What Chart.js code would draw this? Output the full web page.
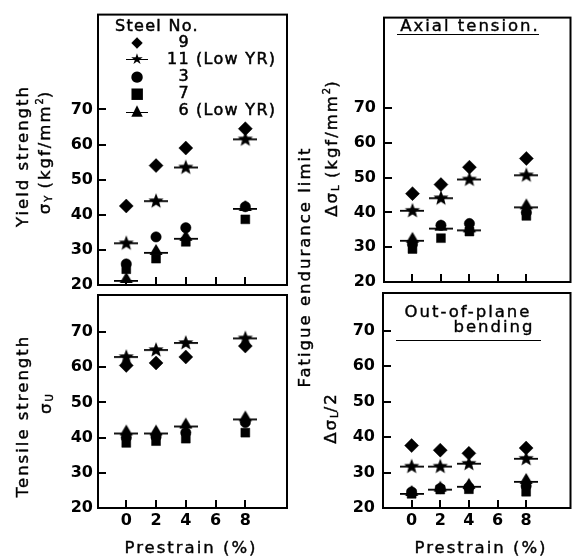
<!DOCTYPE html>
<html>
<head>
<meta charset="utf-8">
<script src="https://cdn.jsdelivr.net/npm/chart.js@4.4.1/dist/chart.umd.min.js"></script>
<style>
  body { margin: 0; background: #fff; }
  #wrap { position: relative; width: 578px; height: 559px; overflow: hidden; font-family: 'DejaVu Sans', sans-serif; color: #000; }
  #wrap canvas { position: absolute; left: 0; top: 0; }
  .t { position: absolute; white-space: nowrap; transform: translate(-50%, -50%); font-size: 16.5px; letter-spacing: 2px; line-height: 1; -webkit-text-stroke: 0.4px #000; }
  .rot { transform: translate(-50%, -50%) rotate(-90deg); }
  .t sub { font-size: 10px; vertical-align: -2px; letter-spacing: 0; }
  .t sup { font-size: 10px; vertical-align: 7px; letter-spacing: 0; }
  .leg { position: absolute; white-space: nowrap; font-size: 16px; line-height: 1; transform: translateY(-50%); letter-spacing: 1.3px; -webkit-text-stroke: 0.5px #000; }
  .mk { position: absolute; transform: translate(-50%, -50%); font-size: 15px; line-height: 1; }
  .dash { position: absolute; height: 0; border-top: 1.5px solid #000; width: 22px; transform: translateX(-50%); }
  .uline { position: absolute; height: 0; border-top: 1.5px solid #000; }
</style>
</head>
<body>
<div id="wrap">
  <canvas id="c1" width="578" height="559"></canvas>
  <canvas id="c2" width="578" height="559"></canvas>
  <canvas id="c3" width="578" height="559"></canvas>
  <canvas id="c4" width="578" height="559"></canvas>

  <!-- axis titles -->
  <div class="t rot" style="left:23px; top:156px;">Yield strength</div>
  <div class="t rot" style="left:44px; top:152px;">σ<sub>Y</sub> (kgf/mm<sup>2</sup>)</div>
  <div class="t rot" style="left:23px; top:416px;">Tensile strength</div>
  <div class="t rot" style="left:46px; top:404px;">σ<sub>U</sub></div>
  <div class="t rot" style="left:305px; top:267px;">Fatigue endurance limit</div>
  <div class="t rot" style="left:331px; top:148px;">Δσ<sub>L</sub> (kgf/mm<sup>2</sup>)</div>
  <div class="t rot" style="left:331px; top:418px;">Δσ<sub>L</sub>/2</div>
  <div class="t" style="left:191px; top:548px;">Prestrain (%)</div>
  <div class="t" style="left:481px; top:548px;">Prestrain (%)</div>

  <!-- panel titles -->
  <div class="t" style="left:470px; top:26px;">Axial tension.</div>
  <div class="uline" style="left:397px; top:34px; width:142px;"></div>
  <div class="t" style="left:468px; top:312px;">Out-of-plane</div>
  <div class="t" style="left:494px; top:327px;">bending</div>
  <div class="uline" style="left:396px; top:340px; width:145px;"></div>

  <!-- legend -->
  <div class="leg" style="left:115px; top:26px;">Steel No.</div>
  <div id="legend"></div>
</div>

<script>
// prestrain (%)
const prestrain = [0, 2, 4, 8];
const xTicks = [0, 2, 4, 6, 8];
const yTicks = [20, 30, 40, 50, 60, 70];

const steelNames = ['9', '11', '3', '7', '6'];
const steelNotes = ['', '(Low YR)', '', '', '(Low YR)'];

// yield strength (kgf/mm2)
const yield9 = [42.5, 54, 59, 64.5];
const yield11 = [32, 44, 53.6, 61.6];
const yield3 = [26, 33.7, 36.3, 42.3];
const yield7 = [24.5, 27.5, 32.3, 38.7];
const yield6 = [22, 30, 34, 42.5];

// tensile strength
const tens9 = [60.5, 61.2, 62.9, 66];
const tens11 = [63, 65, 67, 68.3];
const tens3 = [40, 40.2, 41.4, 44.3];
const tens7 = [38.5, 39, 39.7, 41.4];
const tens6 = [42, 42, 44, 46];

// fatigue endurance limit, axial tension
const axial9 = [45.4, 48, 53, 55.5];
const axial11 = [40.6, 44.2, 49.6, 50.8];
const axial3 = [30.9, 36.3, 36.8, 40];
const axial7 = [29.5, 32.6, 34.5, 39];
const axial6 = [32.7, 36.2, 35.7, 42.3];

// fatigue endurance limit, out-of-plane bending
const bend9 = [37.6, 36.3, 35.4, 36.9];
const bend11 = [31.8, 31.8, 32.6, 34];
const bend3 = [24.5, 25.5, 25.8, 26.2];
const bend7 = [24, 25.2, 25.3, 24.6];
const bend6 = [24.8, 26, 26.8, 28.2];

const W = 578, H = 559;

// marker images for the low YR steels (shape with a horizontal bar)
function makeStar() {
  const c = document.createElement('canvas');
  c.width = 24; c.height = 17;
  const g = c.getContext('2d');
  g.fillStyle = '#000';
  g.beginPath();
  for (let i = 0; i < 10; i++) {
    const r = i % 2 === 0 ? 8 : 3.4;
    const a = -Math.PI / 2 + i * Math.PI / 5;
    const px = 12 + r * Math.cos(a), py = 9 + r * Math.sin(a);
    if (i === 0) g.moveTo(px, py); else g.lineTo(px, py);
  }
  g.closePath();
  g.fill();
  g.fillRect(0, 8, 24, 1.8);
  return c;
}
function makeTri() {
  const c = document.createElement('canvas');
  c.width = 24; c.height = 14;
  const g = c.getContext('2d');
  g.fillStyle = '#000';
  g.beginPath();
  g.moveTo(12, 1); g.lineTo(18.5, 12); g.lineTo(5.5, 12);
  g.closePath();
  g.fill();
  g.fillRect(0, 9, 24, 1.8);
  return c;
}
const starImg = makeStar();
const triImg = makeTri();

const markerStyles = [
  { pointStyle: 'rectRot', pointRadius: 7 },
  { pointStyle: starImg },
  { pointStyle: 'circle', pointRadius: 5.2 },
  { pointStyle: 'rect', pointRadius: 6.3 },
  { pointStyle: triImg },
];

const tickFont = { family: 'DejaVu Sans', size: 16, weight: 'bold' };

// frame and inward tick marks
const framePlugin = {
  id: 'frame',
  afterDraw(chart) {
    const { ctx, chartArea: a, scales: { x, y } } = chart;
    ctx.save();
    ctx.strokeStyle = '#000';
    ctx.lineWidth = 2;
    ctx.strokeRect(a.left, a.top, a.right - a.left, a.bottom - a.top);
    ctx.beginPath();
    y.ticks.forEach((t) => {
      const py = Math.round(y.getPixelForValue(t.value));
      ctx.moveTo(a.left, py);
      ctx.lineTo(a.left + 8, py);
    });
    x.ticks.forEach((t) => {
      const px = Math.round(x.getPixelForValue(t.value));
      ctx.moveTo(px, a.bottom);
      ctx.lineTo(px, a.bottom - 8);
    });
    ctx.stroke();
    ctx.restore();
  },
};

function makeChart(id, box, series) {
  const xh = box.showX ? 30 : 0;
  new Chart(document.getElementById(id), {
    type: 'scatter',
    data: {
      datasets: series.map((vals, i) => ({
        label: steelNames[i],
        data: prestrain.map((p, j) => ({ x: p, y: vals[j] })),
        backgroundColor: '#000',
        borderColor: '#000',
        pointBorderWidth: 0.5,
        ...markerStyles[i],
      })),
    },
    options: {
      responsive: false,
      animation: false,
      layout: {
        padding: { left: 0, top: box.top, right: W - box.right, bottom: H - box.bottom - xh },
      },
      plugins: { legend: { display: false }, tooltip: { enabled: false } },
      scales: {
        x: {
          type: 'linear',
          min: box.xMin,
          max: box.xMax,
          afterBuildTicks: (s) => { s.ticks = xTicks.map((v) => ({ value: v })); },
          afterFit: (s) => { s.height = xh; },
          grid: { display: false, drawTicks: false },
          border: { display: false },
          ticks: { display: box.showX, font: tickFont, color: '#000', padding: 3 },
        },
        y: {
          min: 20,
          max: box.yMax,
          afterBuildTicks: (s) => { s.ticks = yTicks.map((v) => ({ value: v })); },
          afterFit: (s) => { s.width = box.left; },
          grid: { display: false, drawTicks: false },
          border: { display: false },
          ticks: { font: tickFont, color: '#000', padding: box.pad },
        },
      },
    },
    plugins: [framePlugin],
  });
}

makeChart('c1', { left: 98, right: 287, top: 12, bottom: 285, xMin: -1.9, xMax: 10.8, yMax: 97, showX: false, pad: 5 },
  [yield9, yield11, yield3, yield7, yield6]);
makeChart('c2', { left: 98, right: 287, top: 295, bottom: 508, xMin: -1.9, xMax: 10.8, yMax: 80.5, showX: true, pad: 5 },
  [tens9, tens11, tens3, tens7, tens6]);
makeChart('c3', { left: 384, right: 577, top: 12, bottom: 282, xMin: -2, xMax: 11.1, yMax: 96, showX: false, pad: 8 },
  [axial9, axial11, axial3, axial7, axial6]);
makeChart('c4', { left: 383, right: 577, top: 293, bottom: 508, xMin: -2, xMax: 11.1, yMax: 80.6, showX: true, pad: 8 },
  [bend9, bend11, bend3, bend7, bend6]);

// legend rows
const legendGlyphs = ['◆', '★', '●', '■', '▲'];
const legendDash = [false, true, false, false, true];
const legend = document.getElementById('legend');
steelNames.forEach((name, i) => {
  const y = 42 + i * 17;
  let html = `<div class="mk" style="left:137px; top:${y}px;">${legendGlyphs[i]}</div>`;
  if (legendDash[i]) html += `<div class="dash" style="left:137px; top:${y + (i === 4 ? 2 : 0)}px;"></div>`;
  html += `<div class="leg" style="right:${W - 190}px; top:${y}px;">${name}</div>`;
  if (steelNotes[i]) html += `<div class="leg" style="left:196px; top:${y}px;">${steelNotes[i]}</div>`;
  legend.insertAdjacentHTML('beforeend', html);
});
</script>
</body>
</html>
